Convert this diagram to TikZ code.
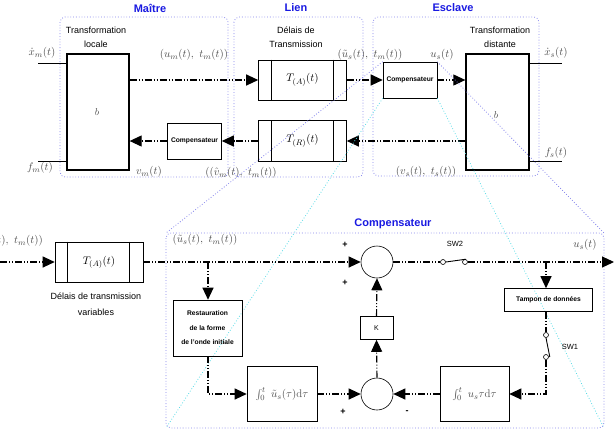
\documentclass[tikz,border=0pt]{standalone}
\usepackage{fontspec}
\setsansfont{Liberation Sans}
\usetikzlibrary{arrows.meta,calc}

\definecolor{titleblue}{RGB}{25,25,225}
\definecolor{grpblue}{RGB}{130,130,235}
\definecolor{zoomcyan}{RGB}{90,220,230}

\tikzset{
  sigline/.style={line width=1.1pt, dash pattern=on 7pt off 2pt on 1pt off 2pt on 1pt off 2pt},
  sig/.style={sigline, -{Triangle[length=12pt,width=11pt]}},
  blk/.style={draw, line width=0.6pt, inner sep=0pt},
  sysblk/.style={draw, line width=1.3pt, inner sep=0pt},
  grp/.style={draw=grpblue, dotted, line width=0.8pt, rounded corners=5pt},
  zoomup/.style={draw=grpblue, dotted, line width=0.8pt},
  zoomlow/.style={draw=zoomcyan, dotted, line width=0.8pt},
  ttl/.style={text=titleblue, font=\fontsize{11}{13}\sffamily\bfseries},
  lbl/.style={text=black!70, font=\fontsize{11}{13}\selectfont, inner sep=0pt},
  txt/.style={font=\fontsize{9}{14}\sffamily, align=center, inner sep=0pt},
  btxt/.style={font=\fontsize{6.7}{14.5}\sffamily\bfseries, align=center},
  sgn/.style={font=\fontsize{9}{10}\sffamily\bfseries, inner sep=0pt},
  sumc/.style={draw, circle, minimum size=32pt, inner sep=0pt, line width=0.6pt},
  swc/.style={draw, circle, fill=white, minimum size=5pt, inner sep=0pt, line width=0.6pt},
}

\begin{document}
\begin{tikzpicture}[x=1pt, y=-1pt]
  \useasboundingbox (0,0) rectangle (615,432);
  \clip (0,0) rectangle (615,432);

  % titres
  \node[ttl] (tmaitre) at (150,8) {Maître};
  \node[ttl] (tlien) at (296,8) {Lien};
  \node[ttl] (tesclave) at (453,8) {Esclave};
  \node[ttl] (tcomp) at (393,224) {Compensateur};

  \draw[grp] (60,17) rectangle (228,177);
  \draw[grp] (234,17) rectangle (363,177);
  \draw[grp] (373,17) rectangle (539,176);

  % maitre
  \node[txt] (trloc) at (96,37) {Transformation\\locale};
  \node[sysblk, minimum width=62pt, minimum height=116pt] (bm) at (98,112) {};
  \node[text=black!70] (bmlbl) at (97,112) {$b$};
  \node[blk, minimum width=54pt, minimum height=36pt, btxt] (cmpm) at (194.5,141) {Compensateur};

  % lien
  \node[txt] (trdel) at (296,37) {Délais de\\Transmission};
  \node[blk, minimum width=88pt, minimum height=40pt, font=\fontsize{11}{13}\selectfont] (ta) at (302.5,80) {$T_{(A)}(t)$};
  \node[blk, minimum width=88pt, minimum height=41pt, font=\fontsize{11}{13}\selectfont] (tr) at (302.5,141) {$T_{(R)}(t)$};
  \draw[line width=0.6pt] ([xshift=13pt]ta.north west) -- ([xshift=13pt]ta.south west)
                          ([xshift=-14pt]ta.north east) -- ([xshift=-14pt]ta.south east);
  \draw[line width=0.6pt] ([xshift=13pt]tr.north west) -- ([xshift=13pt]tr.south west)
                          ([xshift=-14pt]tr.north east) -- ([xshift=-14pt]tr.south east);

  % esclave
  \node[txt] (trdist) at (500,37) {Transformation\\distante};
  \node[blk, minimum width=54pt, minimum height=36pt, btxt] (cmps) at (410,80) {Compensateur};
  \node[sysblk, minimum width=63pt, minimum height=116pt] (bs) at (497.5,112) {};
  \node[text=black!70] (bslbl) at (496,115) {$b$};

  % entrees / sorties
  \coordinate (xm) at (38,63);
  \coordinate (fm) at (38,161);
  \coordinate (xs) at (562,63);
  \coordinate (fs) at (562,161);
  \draw[line width=0.6pt] (xm) -- (bm.west |- xm);
  \draw[line width=0.6pt] (fm) -- (bm.west |- fm);
  \draw[line width=0.6pt] (bs.east |- xs) -- (xs);
  \draw[line width=0.6pt] (bs.east |- fs) -- (fs);

  \draw[sig] (bm.east |- ta.west) -- (ta.west);
  \draw[sig] (ta.east) -- (cmps.west);
  \draw[sig] (cmps.east) -- (bs.west |- cmps.east);
  \draw[sig] (bs.west |- tr.east) -- (tr.east);
  \draw[sig] (tr.west) -- (cmpm.east);
  \draw[sig] (cmpm.west) -- (bm.east |- cmpm.west);

  \node[lbl] (lxm) at (42,53) {$\dot{x}_m(t)$};
  \node[lbl] (lfm) at (40,168) {$f_m(t)$};
  \node[lbl] (lum) at (194,55) {$(u_m(t),\ t_m(t))$};
  \node[lbl] (lvm) at (149,172) {$v_m(t)$};
  \node[lbl] (lvh) at (241,173) {$((\hat{v}_m(t),\ t_m(t))$};
  \node[lbl] (lus) at (370,55) {$(\tilde{u}_s(t),\ t_m(t))$};
  \node[lbl] (lusout) at (442,55) {$u_s(t)$};
  \node[lbl] (lvs) at (426,172) {$(v_s(t),\ t_s(t))$};
  \node[lbl] (lxs) at (556,53) {$\dot{x}_s(t)$};
  \node[lbl] (lfs) at (556,153) {$f_s(t)$};

  % zoom sur le compensateur
  \coordinate (cnw) at (166,233);
  \coordinate (cne) at (604,233);
  \coordinate (csw) at (166,428);
  \coordinate (cse) at (604,428);
  \draw[zoomup] (cmps.north west) -- (cnw);
  \draw[zoomup] (cmps.north east) -- (cne);
  \draw[zoomlow] (cmps.south west) -- (csw);
  \draw[zoomlow] (cmps.south east) -- (cse);
  \draw[grp] (cnw) rectangle (cse);

  % retard variable
  \coordinate (inl) at (0,262);
  \node[lbl, anchor=east] (lumb) at (43,241) {$(u_m(t),\ t_m(t))$};
  \node[blk, minimum width=88pt, minimum height=40pt, font=\fontsize{11}{13}\selectfont] (tav) at (99,262) {$T_{(A)}(t)$};
  \draw[line width=0.6pt] ([xshift=13pt]tav.north west) -- ([xshift=13pt]tav.south west)
                          ([xshift=-14pt]tav.north east) -- ([xshift=-14pt]tav.south east);
  \node[txt, font=\fontsize{9}{16}\sffamily] (trvar) at (96,304) {Délais de transmission\\variables};
  \draw[sig] (inl) -- (tav.west);

  % compensateur
  \node[lbl] (lush) at (205,240) {$(\tilde{u}_s(t),\ t_m(t))$};
  \node[sumc] (sum1) at (377,262) {};
  \node[sumc] (sum2) at (377,394) {};
  \node[blk, minimum width=33pt, minimum height=23pt, font=\fontsize{7}{8}\sffamily] (kb) at (376.5,328) {K};
  \node[blk, minimum width=69pt, minimum height=56pt, btxt] (rest) at (207.5,328) {Restauration\\de la forme\\de l'onde initiale};
  \node[blk, minimum width=70pt, minimum height=55pt, text=black!70, font=\fontsize{11}{13}\selectfont] (int1) at (282,394) {$\int_0^t\ \tilde{u}_s(\tau)\mathrm{d}\tau$};
  \node[blk, minimum width=69pt, minimum height=55pt, text=black!70, font=\fontsize{11}{13}\selectfont] (int2) at (474.5,394) {$\int_0^t\ u_s\tau\mathrm{d}\tau$};
  \node[blk, minimum width=88pt, minimum height=23pt, btxt] (tamp) at (548.5,300) {Tampon de données};

  \node[swc] (sw2a) at (443,262) {};
  \node[swc] (sw2b) at (465,262) {};
  \node[swc] (sw1a) at (546,335) {};
  \node[swc] (sw1b) at (546,357) {};
  \draw[line width=0.9pt] (sw2a.east) -- ([xshift=1pt]sw2b.north);
  \draw[line width=0.9pt] (sw1a.south) -- ([xshift=1pt]sw1b.east);
  \node[font=\fontsize{7.5}{9}\sffamily] (lsw2) at (455,244) {SW2};
  \node[font=\fontsize{7.5}{9}\sffamily] (lsw1) at (570,347) {SW1};

  \coordinate (br1) at (208,262);
  \coordinate (br2) at (546,262);
  \coordinate (outr) at (614,262);
  \draw[sig] (tav.east) -- (sum1.west);
  \draw[sig] (br1) -- (br1 |- rest.north);
  \draw[sig] (br1 |- rest.south) |- (int1.west);
  \draw[sig] (int1.east) -- (sum2.west);
  \draw[sig] (sum2.north) -- (kb.south);
  \draw[sig] (kb.north) -- (sum1.south);
  \draw[sigline] (sum1.east) -- (sw2a.west);
  \draw[sig] (sw2b.east) -- (outr);
  \draw[sig] (br2) -- (br2 |- tamp.north);
  \draw[sigline] (br2 |- tamp.south) -- (sw1a.north);
  \draw[sig] (sw1b.south) |- (int2.east);
  \draw[sig] (int2.west) -- (sum2.east);
  \node[lbl] (lusc) at (585,245) {$u_s(t)$};

  \node[sgn] (p1) at (345,245) {+};
  \node[sgn] (p2) at (345,283) {+};
  \node[sgn] (p3) at (343,412) {+};
  \node[sgn] (m1) at (407,412) {-};
\end{tikzpicture}
\end{document}
